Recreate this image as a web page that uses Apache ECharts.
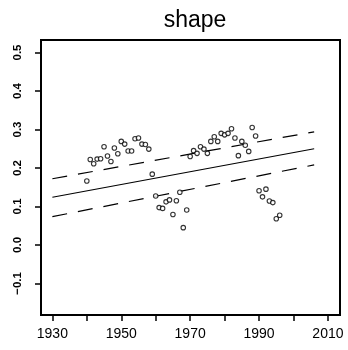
<!DOCTYPE html>
<html>
<head>
<meta charset="utf-8">
<script src="https://cdn.jsdelivr.net/npm/echarts@6/dist/echarts.min.js"></script>
<style>
  html, body { margin: 0; padding: 0; background: #fff; }
  #chart { width: 348px; height: 350px; }
</style>
</head>
<body>
<div id="chart"></div>
<script>
// yearly shape estimates
const years = [
  1940, 1941, 1942, 1943, 1944, 1945, 1946, 1947, 1948, 1949,
  1950, 1951, 1952, 1953, 1954, 1955, 1956, 1957, 1958, 1959,
  1960, 1961, 1962, 1963, 1964, 1965, 1966, 1967, 1968, 1969,
  1970, 1971, 1972, 1973, 1974, 1975, 1976, 1977, 1978, 1979,
  1980, 1981, 1982, 1983, 1984, 1985, 1986, 1987, 1988, 1989,
  1990, 1991, 1992, 1993, 1994, 1995, 1996
];
const shape = [
  0.166, 0.222, 0.211, 0.223, 0.224, 0.255, 0.231, 0.217, 0.252, 0.237,
  0.269, 0.262, 0.244, 0.244, 0.276, 0.278, 0.262, 0.261, 0.249, 0.184,
  0.127, 0.097, 0.095, 0.112, 0.117, 0.079, 0.115, 0.137, 0.045, 0.091,
  0.230, 0.245, 0.238, 0.255, 0.249, 0.238, 0.269, 0.281, 0.269, 0.290,
  0.286, 0.290, 0.302, 0.278, 0.232, 0.269, 0.259, 0.243, 0.305, 0.283,
  0.141, 0.125, 0.145, 0.114, 0.110, 0.068, 0.077
];

// fitted trend and band, start / end years
const fitYears = [1930, 2006];
const fit = [0.124, 0.250];
const upper = [0.172, 0.294];
const lower = [0.0735, 0.208];

const xTicks = [1930, 1940, 1950, 1960, 1970, 1980, 1990, 2000, 2010];
const xLabels = [1930, 1950, 1970, 1990, 2010];
const yTicks = [-0.1, 0, 0.1, 0.2, 0.3, 0.4, 0.5];

const font = "'Liberation Sans', Arial, Helvetica, sans-serif";

const pairs = (xs, ys) => xs.map((x, i) => [x, ys[i]]);

const chart = echarts.init(document.getElementById("chart"));

const bandLine = (name, ys, dashed) => ({
  name: name,
  type: "line",
  data: pairs(fitYears, ys),
  symbol: "none",
  silent: true,
  lineStyle: {
    color: "#000",
    width: 1.2,
    type: dashed ? [15, 11] : "solid",
  },
  z: 2,
});

const option = {
  animation: false,
  backgroundColor: "#fff",
  title: {
    text: "shape",
    left: 190,
    top: 4,
    textAlign: "center",
    textStyle: {
      fontFamily: font,
      fontSize: 23,
      fontWeight: "normal",
      color: "#000",
    },
  },
  grid: {
    left: 41,
    right: 8,
    top: 40,
    bottom: 35,
    show: true,
    borderColor: "#000",
    borderWidth: 2,
  },
  xAxis: {
    type: "value",
    min: 1926.7,
    max: 2013.5,
    axisLine: { show: false, onZero: false },
    splitLine: { show: false },
    axisTick: {
      show: true,
      length: 6,
      customValues: xTicks,
      lineStyle: { color: "#000", width: 1.5 },
    },
    axisLabel: {
      customValues: xLabels,
      margin: 12,
      color: "#000",
      fontFamily: font,
      fontSize: 14,
      formatter: (v) => String(v),
    },
  },
  yAxis: {
    type: "value",
    min: -0.182,
    max: 0.5325,
    axisLine: { show: false, onZero: false },
    splitLine: { show: false },
    axisTick: {
      show: true,
      length: 6,
      customValues: yTicks,
      lineStyle: { color: "#000", width: 1.5 },
    },
    axisLabel: {
      customValues: yTicks,
      rotate: 90,
      margin: 17,
      color: "#000",
      fontFamily: font,
      fontSize: 11.5,
      fontWeight: "bold",
      formatter: (v) => (v < 0 ? "\u2212" + Math.abs(v).toFixed(1) : v.toFixed(1)),
    },
  },
  series: [
    {
      name: "shape",
      type: "scatter",
      data: pairs(years, shape),
      symbol: "circle",
      symbolSize: 4.5,
      itemStyle: { color: "#fff", borderColor: "#000", borderWidth: 1.1 },
      z: 3,
    },
    bandLine("fit", fit, false),
    bandLine("upper", upper, true),
    bandLine("lower", lower, true),
  ],
};

chart.setOption(option);
</script>
</body>
</html>
